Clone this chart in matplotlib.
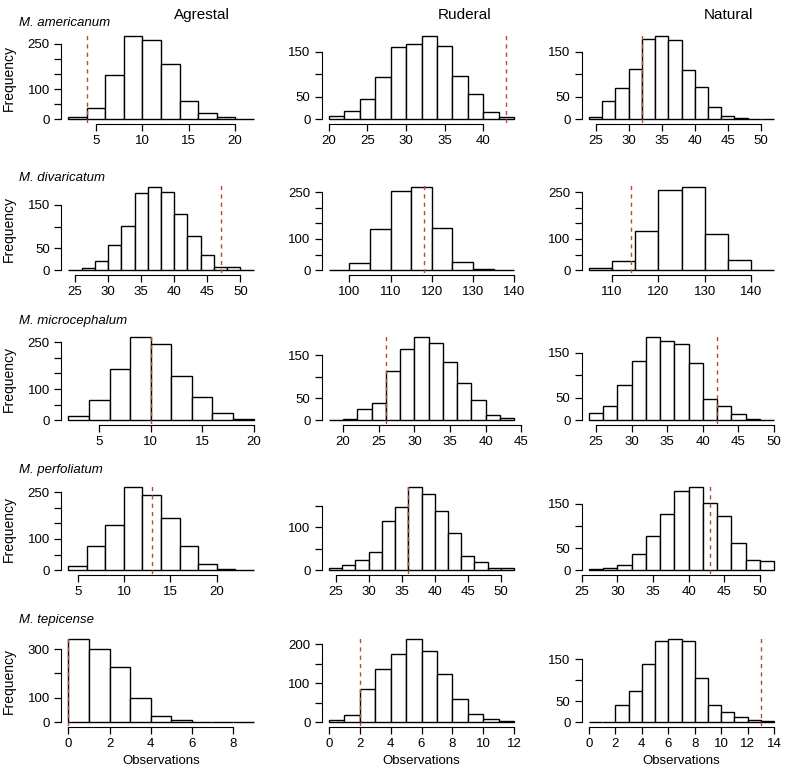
import matplotlib
matplotlib.use("Agg")
import matplotlib.pyplot as plt
import numpy as np

plt.rcParams['font.family'] = ['Liberation Sans', 'DejaVu Sans']

species = ["M. americanum", "M. divaricatum", "M. microcephalum",
           "M. perfoliatum", "M. tepicense"]
habitats = ["Agrestal", "Ruderal", "Natural"]

# histogram counts per species, one list per habitat (Agrestal, Ruderal, Natural)
counts_americanum = [
    [8, 36, 146, 275, 263, 182, 62, 19, 6, 1],
    [7, 19, 45, 93, 160, 166, 184, 162, 96, 56, 17, 5],
    [5, 41, 69, 113, 180, 185, 177, 110, 72, 28, 8, 3, 1.5, 1],
]
counts_divaricatum = [
    [1, 4, 21, 58, 102, 178, 190, 180, 128, 78, 35, 8, 8, 0.5],
    [1, 22, 132, 253, 265, 134, 27, 5, 1],
    [8, 29, 125, 255, 265, 115, 34, 1],
]
counts_microcephalum = [
    [12, 66, 163, 266, 246, 142, 76, 22, 4],
    [1, 2, 25, 40, 114, 165, 191, 179, 135, 85, 46, 11, 4],
    [17, 31, 79, 132, 185, 177, 171, 127, 47, 31, 13, 2, 1],
]
counts_perfoliatum = [
    [14, 78, 145, 265, 241, 168, 76, 21, 5, 1],
    [5, 13, 25, 43, 114, 147, 194, 179, 139, 87, 33, 18, 5, 6],
    [2, 4, 11, 36, 77, 126, 178, 187, 152, 123, 62, 24, 21],
]
counts_tepicense = [
    [340, 300, 225, 100, 25, 8, 2, 1, 0.5],
    [5, 18, 85, 135, 175, 212, 183, 122, 60, 20, 8, 4],
    [0, 0, 40, 75, 140, 195, 198, 195, 105, 40, 25, 12, 5, 2],
]
counts = [counts_americanum, counts_divaricatum, counts_microcephalum,
          counts_perfoliatum, counts_tepicense]

# first break and bin width of each histogram
bin_starts = [[2, 20, 24], [24, 95, 105], [2, 18, 24], [4, 24, 26], [0, 0, 0]]
bin_widths = [[2, 2, 2], [2, 5, 5], [2, 2, 2], [2, 2, 2], [1, 1, 1]]

# observed value (dashed red line)
observed = [[4, 43, 32], [47, 118, 114], [10, 26, 42], [13, 36, 43], [0, 2, 13]]

# x axis ticks
x_ticks = [
    [[5, 10, 15, 20], [20, 25, 30, 35, 40], [25, 30, 35, 40, 45, 50]],
    [[25, 30, 35, 40, 45, 50], [100, 110, 120, 130, 140], [110, 120, 130, 140]],
    [[5, 10, 15, 20], [20, 25, 30, 35, 40, 45], [25, 30, 35, 40, 45, 50]],
    [[5, 10, 15, 20], [25, 30, 35, 40, 45, 50], [25, 30, 35, 40, 45, 50]],
    [[0, 2, 4, 6, 8], [0, 2, 4, 6, 8, 10, 12], [0, 2, 4, 6, 8, 10, 12, 14]],
]
# y axis ticks (all) and the ones that carry a label
y_ticks = [
    [[0, 50, 100, 150, 200, 250], [0, 50, 100, 150], [0, 50, 100, 150]],
    [[0, 50, 100, 150], [0, 50, 100, 150, 200, 250], [0, 50, 100, 150, 200, 250]],
    [[0, 50, 100, 150, 200, 250], [0, 50, 100, 150], [0, 50, 100, 150]],
    [[0, 50, 100, 150, 200, 250], [0, 50, 100, 150], [0, 50, 100, 150]],
    [[0, 100, 200, 300], [0, 50, 100, 150, 200], [0, 50, 100, 150]],
]
y_labeled = [
    [[0, 100, 250], [0, 50, 150], [0, 50, 150]],
    [[0, 50, 150], [0, 100, 250], [0, 100, 250]],
    [[0, 100, 250], [0, 50, 150], [0, 50, 150]],
    [[0, 100, 250], [0, 100], [0, 50, 150]],
    [[0, 100, 300], [0, 100, 200], [0, 50, 150]],
]

W, H = 790, 777
fig = plt.figure(figsize=(W / 100, H / 100), dpi=100)

col_left = [61, 321.5, 581.5]
col_width = 200
row_top = [33, 184, 334, 484, 636]
row_height = 89.5

for r in range(5):
    for c in range(3):
        left = col_left[c] / W
        bottom = 1 - (row_top[r] + row_height) / H
        ax = fig.add_axes([left, bottom, col_width / W, row_height / H])

        n = np.array(counts[r][c], dtype=float)
        w = bin_widths[r][c]
        edges = bin_starts[r][c] + w * np.arange(len(n) + 1)
        ax.bar(edges[:-1], n, width=w, align='edge', facecolor='white',
               edgecolor='black', linewidth=1.0, zorder=2)
        ax.axvline(observed[r][c], color='#b8473c', linestyle=(0, (3, 3)),
                   linewidth=1.0, zorder=3)

        rng = edges[-1] - edges[0]
        ax.set_xlim(edges[0] - 0.04 * rng, edges[-1] + 0.04 * rng)
        ymax = n.max()
        ax.set_ylim(-0.04 * ymax, 1.04 * ymax)

        xt = x_ticks[r][c]
        yt = y_ticks[r][c]
        ax.set_xticks(xt)
        ax.set_xticklabels([str(t) for t in xt])
        ax.set_yticks(yt)
        ax.set_yticklabels([str(t) if t in y_labeled[r][c] else '' for t in yt])

        for s in ['top', 'right']:
            ax.spines[s].set_visible(False)
        ax.spines['bottom'].set_bounds(xt[0], xt[-1])
        ax.spines['left'].set_bounds(yt[0], yt[-1])
        ax.spines['bottom'].set_position(('outward', 1))
        ax.tick_params(axis='both', length=5, width=0.9, labelsize=9.5,
                       direction='out', pad=3)
        ax.patch.set_alpha(0)

# column headers
header_x = [202, 465, 728]
for c, name in enumerate(habitats):
    fig.text(header_x[c] / W, 1 - 15 / H, name, ha='center', va='center',
             fontsize=11)

# species names
species_y = [23, 178, 321, 470, 620]
for r, name in enumerate(species):
    fig.text(19 / W, 1 - species_y[r] / H, name, ha='left', va='center',
             fontsize=9.5, style='italic')
    fig.text(9 / W, 1 - (row_top[r] + row_height / 2) / H, 'Frequency',
             rotation=90, ha='center', va='center', fontsize=10)

for c in range(3):
    fig.text((col_left[c] + col_width / 2) / W, 1 - 761 / H, 'Observations',
             ha='center', va='center', fontsize=9.5)

fig.savefig('out.png', dpi=100)
